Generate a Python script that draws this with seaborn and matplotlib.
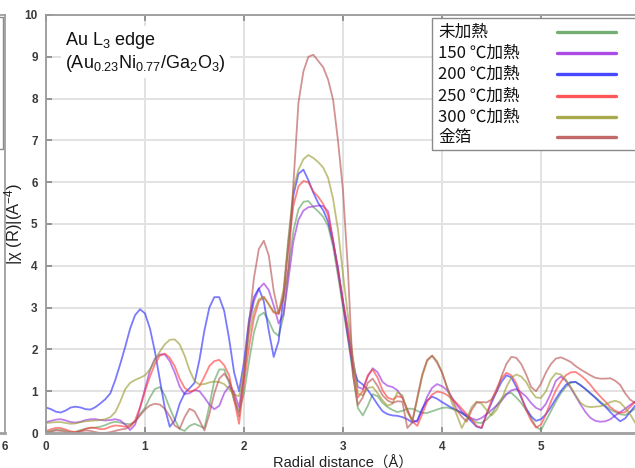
import numpy as np
import pandas as pd
import matplotlib
matplotlib.use("Agg")
import matplotlib.pyplot as plt
import seaborn as sns
from matplotlib.patches import Rectangle
from matplotlib.lines import Line2D

# ---------------- data ----------------
r = [round(i * 0.05, 2) for i in range(121)]  # 0.00 .. 6.00 Å

unheated = [0.02, 0.05, 0.08, 0.08, 0.05, 0.02, 0.03, 0.07, 0.10, 0.12,
            0.13, 0.15, 0.19, 0.24, 0.27, 0.25, 0.22, 0.21, 0.27, 0.45,
            0.60, 0.85, 1.05, 1.10, 0.90, 0.60, 0.32, 0.10, 0.05, 0.17,
            0.22, 0.17, 0.12, 0.65, 1.25, 1.52, 1.52, 1.20, 0.78, 0.52,
            0.95, 1.70, 2.40, 2.80, 2.88, 2.68, 2.42, 2.32, 2.80, 3.95,
            4.85, 5.35, 5.53, 5.55, 5.41, 5.30, 5.17, 4.95, 4.46, 3.75,
            3.00, 2.25, 1.43, 0.60, 0.42, 0.65, 0.93, 0.88, 0.72, 0.62,
            0.55, 0.50, 0.53, 0.58, 0.58, 0.53, 0.48, 0.48, 0.52, 0.56,
            0.60, 0.61, 0.58, 0.53, 0.48, 0.40, 0.32, 0.25, 0.24, 0.32,
            0.45, 0.65, 0.82, 0.94, 0.96, 0.85, 0.72, 0.55, 0.36, 0.15,
            0.07, 0.30, 0.52, 0.75, 0.95, 1.10, 1.20, 1.22, 1.15, 1.05,
            0.94, 0.85, 0.75, 0.65, 0.56, 0.50, 0.45, 0.43, 0.50, 0.58,
            0.62]

heat150 = [0.26, 0.29, 0.32, 0.33, 0.30, 0.26, 0.25, 0.27, 0.31, 0.33,
           0.33, 0.31, 0.30, 0.31, 0.33, 0.30, 0.20, 0.07, 0.20, 0.60,
           1.05, 1.50, 1.78, 1.88, 1.88, 1.72, 1.45, 1.11, 0.93, 0.95,
           1.03, 1.00, 0.85, 0.68, 0.57, 0.65, 0.95, 1.12, 0.98, 0.62,
           1.35, 2.55, 3.15, 3.45, 3.58, 3.42, 3.05, 2.62, 2.85, 3.70,
           4.60, 5.10, 5.32, 5.40, 5.42, 5.44, 5.43, 5.30, 4.62, 3.85,
           3.15, 2.50, 1.75, 1.10, 1.05, 1.35, 1.55, 1.45, 1.22, 1.13,
           1.10, 1.02, 0.85, 0.55, 0.30, 0.27, 0.55, 0.87, 1.08, 1.17,
           1.12, 1.03, 0.85, 0.67, 0.52, 0.42, 0.35, 0.31, 0.36, 0.45,
           0.55, 0.65, 0.77, 0.92, 1.02, 1.05, 0.97, 0.87, 0.72, 0.60,
           0.55, 0.70, 0.95, 1.25, 1.35, 1.25, 1.08, 0.88, 0.68, 0.50,
           0.36, 0.29, 0.27, 0.28, 0.33, 0.42, 0.50, 0.58, 0.67, 0.75,
           0.80]

heat200 = [0.61, 0.57, 0.51, 0.49, 0.54, 0.61, 0.63, 0.61, 0.57, 0.56,
           0.62, 0.71, 0.81, 0.95, 1.27, 1.65, 2.06, 2.50, 2.82, 2.96,
           2.86, 2.50, 1.95, 1.27, 0.60, 0.15, 0.30, 0.70, 0.95, 1.07,
           1.20, 1.75, 2.45, 3.00, 3.25, 3.25, 2.92, 2.25, 1.45, 1.00,
           1.70, 2.70, 3.25, 3.46, 3.15, 2.45, 1.82, 2.20, 3.30, 4.60,
           5.70, 6.20, 6.30, 6.05, 5.75, 5.50, 5.33, 5.05, 4.55, 3.95,
           3.10, 2.30, 1.55, 1.25, 1.16, 1.03, 0.86, 0.68, 0.52, 0.45,
           0.42, 0.41, 0.38, 0.33, 0.25, 0.30, 0.58, 0.78, 0.87, 0.82,
           0.74, 0.67, 0.60, 0.55, 0.48, 0.39, 0.27, 0.15, 0.12, 0.45,
           0.72, 0.98, 1.22, 1.38, 1.33, 1.11, 0.85, 0.59, 0.40, 0.29,
           0.33, 0.45, 0.62, 0.82, 1.00, 1.15, 1.22, 1.22, 1.14, 1.05,
           0.95, 0.84, 0.72, 0.63, 0.50, 0.38, 0.28, 0.35, 0.50, 0.65,
           0.72]

heat250 = [0.05, 0.09, 0.12, 0.12, 0.08, 0.04, 0.02, 0.05, 0.10, 0.13,
           0.12, 0.09, 0.10, 0.15, 0.18, 0.17, 0.15, 0.18, 0.30, 0.62,
           1.00, 1.35, 1.65, 1.85, 1.90, 1.80, 1.60, 1.30, 1.08, 0.99,
           1.02, 1.12, 1.35, 1.60, 1.72, 1.75, 1.62, 1.38, 0.80, 0.22,
           1.20, 2.05, 2.75, 3.15, 3.26, 3.08, 2.88, 2.85, 3.34, 4.50,
           5.45, 5.90, 6.03, 6.00, 5.78, 5.65, 5.48, 5.20, 4.60, 3.90,
           3.15, 2.40, 1.60, 0.85, 1.00, 1.38, 1.52, 1.32, 1.02, 0.85,
           0.80, 0.88, 0.85, 0.55, 0.28, 0.17, 0.45, 0.75, 0.92, 0.99,
           0.97, 0.91, 0.82, 0.71, 0.58, 0.45, 0.32, 0.17, 0.12, 0.45,
           0.78, 1.05, 1.30, 1.44, 1.38, 1.19, 0.88, 0.55, 0.30, 0.13,
           0.20, 0.45, 0.75, 1.02, 1.22, 1.38, 1.45, 1.46, 1.38, 1.28,
           1.15, 1.00, 0.87, 0.75, 0.62, 0.53, 0.48, 0.50, 0.62, 0.75,
           0.80]

heat300 = [0.24, 0.25, 0.26, 0.26, 0.24, 0.22, 0.23, 0.26, 0.28, 0.29,
           0.30, 0.31, 0.33, 0.38, 0.50, 0.75, 1.05, 1.20, 1.27, 1.32,
           1.38, 1.52, 1.75, 1.95, 2.12, 2.23, 2.24, 2.12, 1.85, 1.50,
           1.25, 1.16, 1.17, 1.21, 1.23, 1.22, 1.17, 1.05, 0.92, 0.88,
           1.50, 2.35, 2.90, 3.20, 3.25, 3.08, 2.90, 2.88, 3.45, 4.70,
           5.85, 6.30, 6.55, 6.65, 6.58, 6.48, 6.35, 6.10, 5.60, 4.85,
           3.80, 2.80, 1.80, 0.95, 0.90, 1.08, 1.10, 0.95, 0.78, 0.65,
           0.70, 0.98, 0.90, 0.50, 0.30, 0.80, 1.35, 1.72, 1.85, 1.72,
           1.45, 1.10, 0.72, 0.43, 0.12, 0.35, 0.62, 0.75, 0.70, 0.55,
           0.42, 0.55, 0.78, 1.10, 1.32, 1.40, 1.35, 1.22, 1.00, 0.85,
           0.84, 1.00, 1.28, 1.43, 1.40, 1.28, 1.10, 0.90, 0.72, 0.64,
           0.62, 0.63, 0.64, 0.68, 0.74, 0.77, 0.73, 0.60, 0.45, 0.25,
           0.15]

gold_foil = [0.00, 0.03, 0.06, 0.05, 0.02, 0.00, 0.01, 0.04, 0.06, 0.05,
             0.02, 0.00, 0.00, 0.02, 0.05, 0.08, 0.10, 0.15, 0.28, 0.42,
             0.56, 0.66, 0.70, 0.68, 0.58, 0.40, 0.18, 0.10, 0.38, 0.58,
             0.52, 0.30, 0.06, 0.45, 0.95, 1.30, 1.42, 1.25, 0.90, 0.40,
             1.40, 2.60, 3.70, 4.40, 4.60, 4.25, 3.40, 2.85, 3.25, 3.95,
             6.00, 7.90, 8.65, 9.00, 9.05, 8.90, 8.75, 8.45, 7.97, 6.98,
             5.80, 3.90, 1.40, 0.67, 0.85, 1.20, 1.30, 1.12, 0.90, 0.78,
             0.72, 0.76, 0.75, 0.12, 0.25, 0.85, 1.40, 1.75, 1.85, 1.68,
             1.45, 1.10, 0.82, 0.55, 0.39, 0.27, 0.55, 0.73, 0.74, 0.73,
             0.80, 0.99, 1.35, 1.65, 1.82, 1.80, 1.65, 1.40, 1.10, 1.00,
             1.18, 1.45, 1.65, 1.78, 1.81, 1.76, 1.70, 1.60, 1.52, 1.45,
             1.38, 1.32, 1.30, 1.30, 1.31, 1.25, 1.15, 0.95, 0.80, 0.72,
             0.70]

labels = ["未加熱", "150 ℃加熱", "200 ℃加熱", "250 ℃加熱", "300 ℃加熱", "金箔"]
series = [unheated, heat150, heat200, heat250, heat300, gold_foil]
colors = ["#5aa05a", "#9a2be0", "#2828ff", "#ff3a3a", "#9a9a30", "#b85050"]

df = pd.concat(
    [pd.DataFrame({"r": r, "chi": v, "sample": lab}) for lab, v in zip(labels, series)],
    ignore_index=True)

# ---------------- figure ----------------
sns.set_theme(style="white")
plt.rcParams["font.family"] = ["Liberation Sans", "Noto Sans CJK JP", "DejaVu Sans"]
plt.rcParams["mathtext.fontset"] = "custom"
plt.rcParams["mathtext.rm"] = "Liberation Sans"
plt.rcParams["mathtext.it"] = "Liberation Sans:italic"
plt.rcParams["mathtext.default"] = "regular"

W, H = 635, 468
fig = plt.figure(figsize=(W / 100, H / 100), dpi=100)
fig.patch.set_facecolor("white")

x0, x6 = 46, 640
ytop, ybot = 15, 433

# stub of the neighbouring panel on the left edge (drawn first, underneath)
stub = fig.add_axes([(5 - 300) / W, 1 - ybot / H, 300 / W, (ybot - ytop) / H])
stub.patch.set_visible(False)
stub.set_xlim(0, 6)
stub.set_ylim(0, 10)
stub.set_xticks([6])
stub.set_yticks([])
stub.tick_params(axis="x", labelsize=8.5, labelcolor="#3a3a3a", length=0, pad=6)
for t in stub.get_xticklabels():
    t.set_fontweight("bold")
for side in stub.spines:
    stub.spines[side].set_color("#9a9a9a")
stub.spines["bottom"].set_color("#a0a0a0")
stub.spines["bottom"].set_linewidth(2.0)
stub.add_patch(Rectangle((4.0, 6.8), 1.95, 3.15, facecolor="none",
                         edgecolor="#8a8a8a", linewidth=1.0))

ax = fig.add_axes([x0 / W, 1 - ybot / H, (x6 - x0) / W, (ybot - ytop) / H])
ax.patch.set_visible(False)

palette = dict(zip(labels, colors))
sns.lineplot(data=df, x="r", y="chi", hue="sample", palette=palette,
             estimator=None, linewidth=1.3, alpha=0.62, legend=False, ax=ax)

ax.set_xlim(0, 6)
ax.set_ylim(0, 10)
ax.set_xticks(range(0, 7))
ax.set_yticks(range(0, 11))
ax.grid(True, color="#e2e2e2", linewidth=1.4)
ax.set_axisbelow(True)
for side in ["left", "top", "right"]:
    ax.spines[side].set_color("#9a9a9a")
    ax.spines[side].set_linewidth(1.3)
ax.spines["bottom"].set_color("#a0a0a0")
ax.spines["bottom"].set_linewidth(2.0)
ax.tick_params(axis="both", which="both", direction="in", length=4,
               color="#8a8a8a", labelsize=8.5, labelcolor="#3a3a3a", pad=6,
               top=True, bottom=True, left=True)
for t in ax.get_xticklabels() + ax.get_yticklabels():
    t.set_fontweight("bold")

ax.set_xlabel("Radial distance（Å）", fontsize=10.5, color="#222222",
              family=["Liberation Sans", "Noto Sans CJK JP", "DejaVu Sans"], labelpad=2)
ax.set_ylabel("|χ (R)|(A$^{-4}$)", fontsize=12, color="#222222")
ax.yaxis.set_label_coords((25 - x0) / (x6 - x0), 0.5)

# annotation box
fig.text(65 / W, 1 - 30 / H,
         "Au L$_3$ edge\n(Au$_{0.23}$Ni$_{0.77}$/Ga$_2$O$_3$)",
         fontsize=13, color="#111111", va="top", ha="left", linespacing=1.15,
         bbox=dict(facecolor="white", edgecolor="none", pad=3))

# manual legend (text left, line right)
fig.add_artist(Rectangle((432 / W, 1 - 150 / H), (W + 10 - 432) / W, (150 - 18) / H,
                         transform=fig.transFigure, facecolor="white",
                         edgecolor="#8a8a8a", linewidth=1.0, zorder=5))
rows = [32, 53, 74, 96, 117, 137]
for lab, col, yy in zip(labels, colors, rows):
    fig.text(438 / W, 1 - yy / H, lab, fontsize=12, color="#111111",
             family=["Noto Sans CJK JP", "DejaVu Sans"], va="center", ha="left", zorder=6)
    fig.add_artist(Line2D([557 / W, 616 / W], [1 - yy / H, 1 - yy / H],
                          transform=fig.transFigure, color=col, linewidth=2.4,
                          alpha=0.85, zorder=6))

fig.savefig("out.png", dpi=100, facecolor="white")
